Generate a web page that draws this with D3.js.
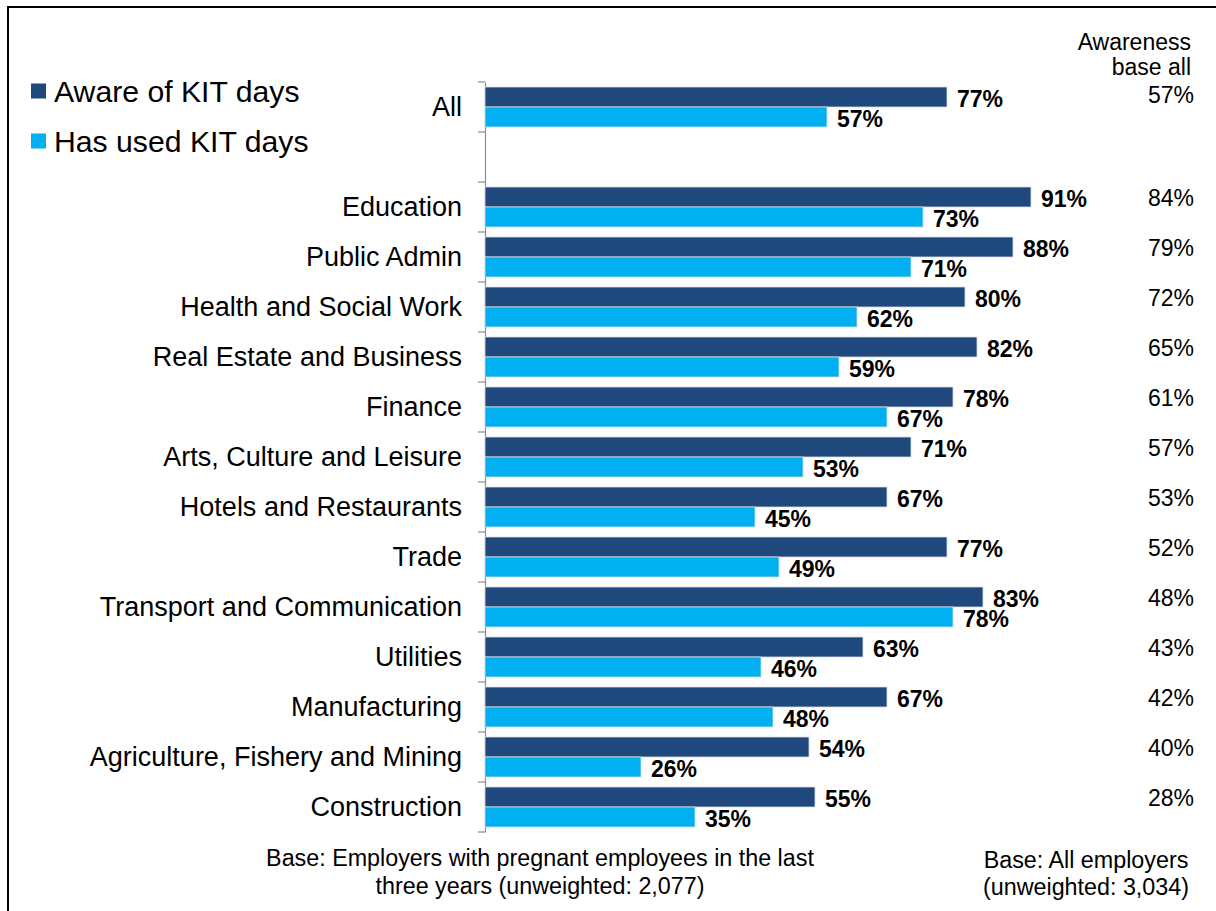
<!DOCTYPE html>
<html>
<head>
<meta charset="utf-8">
<script src="https://cdn.jsdelivr.net/npm/d3@7"></script>
<style>
  html, body { margin: 0; padding: 0; background: #fff; }
  svg { display: block; font-family: "Liberation Sans", Arial, sans-serif; }
</style>
</head>
<body>
<svg id="chart" width="1216" height="911"></svg>
<script>
// Sector rows; the blank entry is a spacer row under "All"
const categories = ["All", "", "Education", "Public Admin", "Health and Social Work",
  "Real Estate and Business", "Finance", "Arts, Culture and Leisure",
  "Hotels and Restaurants", "Trade", "Transport and Communication", "Utilities",
  "Manufacturing", "Agriculture, Fishery and Mining", "Construction"];
const awareValues = [77, null, 91, 88, 80, 82, 78, 71, 67, 77, 83, 63, 67, 54, 55];
const usedValues  = [57, null, 73, 71, 62, 59, 67, 53, 45, 49, 78, 46, 48, 26, 35];
const awarenessBaseAll = [57, null, 84, 79, 72, 65, 61, 57, 53, 52, 48, 43, 42, 40, 28];
const seriesNames = ["Aware of KIT days", "Has used KIT days"];
const seriesColors = ["#1F497D", "#00B0F0"];
const baseNoteLeft = ["Base: Employers with pregnant employees in the last", "three years (unweighted: 2,077)"];
const baseNoteRight = ["Base: All employers", "(unweighted: 3,034)"];
const awarenessHeader = ["Awareness", "base all"];

const svg = d3.select("#chart");
const rows = categories.map((c, i) => ({ key: i, name: c, aware: awareValues[i], used: usedValues[i], base: awarenessBaseAll[i] }));

// Outer frame
svg.append("rect")
  .attr("x", 8).attr("y", 7).attr("width", 1230).attr("height", 930)
  .attr("fill", "none").attr("stroke", "#000").attr("stroke-width", 2);

const x = d3.scaleLinear().domain([0, 100]).range([485, 1085]);
const y = d3.scaleBand().domain(rows.map(r => r.key)).range([82, 832]).padding(0);
const inner = d3.scaleBand().domain([0, 1]).range([5, y.bandwidth() - 5]);

// Category axis
const axis = svg.append("g")
  .attr("transform", `translate(${x(0)},0)`)
  .call(d3.axisLeft(y).tickValues([]).tickSize(0).tickSizeOuter(0));
axis.select(".domain").attr("stroke", "#8c8c8c").attr("stroke-width", 1.2);
// Boundary ticks between rows
axis.selectAll("line.sep")
  .data(d3.range(rows.length + 1))
  .join("line").attr("class", "sep")
  .attr("x1", -7).attr("x2", 0)
  .attr("y1", i => 82 + i * y.step()).attr("y2", i => 82 + i * y.step())
  .attr("stroke", "#8c8c8c").attr("stroke-width", 1.2);

// Category labels
svg.append("g").selectAll("text")
  .data(rows.filter(r => r.name))
  .join("text")
  .attr("x", 462)
  .attr("y", r => y(r.key) + y.bandwidth() / 2)
  .attr("text-anchor", "end")
  .attr("dominant-baseline", "central")
  .attr("font-size", 27)
  .attr("fill", "#000")
  .text(r => r.name);

// Bars
const fields = ["aware", "used"];
const rowG = svg.append("g").selectAll("g")
  .data(rows.filter(r => r.aware != null))
  .join("g")
  .attr("transform", r => `translate(0,${y(r.key)})`);

fields.forEach((f, si) => {
  rowG.append("rect")
    .attr("x", x(0))
    .attr("y", inner(si))
    .attr("width", r => x(r[f]) - x(0))
    .attr("height", inner.bandwidth())
    .attr("fill", seriesColors[si])
    .attr("stroke", "#d8dde3")
    .attr("stroke-width", 0.8);
  rowG.append("text")
    .attr("x", r => x(r[f]) + 10)
    .attr("y", inner(si) + inner.bandwidth() / 2 + 2)
    .attr("dominant-baseline", "central")
    .attr("font-size", 23)
    .attr("font-weight", "bold")
    .attr("fill", "#000")
    .text(r => r[f] + "%");
});

// Legend
const legend = svg.append("g");
seriesNames.forEach((name, i) => {
  const ly = 91 + i * 50;
  legend.append("rect")
    .attr("x", 31).attr("y", ly - 7.5)
    .attr("width", 15).attr("height", 15)
    .attr("fill", seriesColors[i]);
  legend.append("text")
    .attr("x", 54).attr("y", ly)
    .attr("dominant-baseline", "central")
    .attr("font-size", 30.2)
    .attr("fill", "#000")
    .text(name);
});

// Awareness base column
const side = svg.append("g").attr("font-size", 23).attr("fill", "#000");
side.selectAll("text.head")
  .data(awarenessHeader)
  .join("text").attr("class", "head")
  .attr("x", 1191).attr("y", (d, i) => 42 + i * 25)
  .attr("text-anchor", "end")
  .attr("dominant-baseline", "central")
  .text(d => d);
side.selectAll("text.val")
  .data(rows.filter(r => r.base != null))
  .join("text").attr("class", "val")
  .attr("x", 1194)
  .attr("y", r => r.key === 0 ? 95 : y(r.key) + y.bandwidth() / 2 - 9)
  .attr("text-anchor", "end")
  .attr("dominant-baseline", "central")
  .text(r => r.base + "%");

// Base notes
const notes = svg.append("g").attr("font-size", 23.3).attr("fill", "#000");
notes.selectAll("text.l")
  .data(baseNoteLeft)
  .join("text").attr("class", "l")
  .attr("x", 540).attr("y", (d, i) => 858 + i * 28)
  .attr("text-anchor", "middle")
  .attr("dominant-baseline", "central")
  .text(d => d);
notes.selectAll("text.r")
  .data(baseNoteRight)
  .join("text").attr("class", "r")
  .attr("x", 1086).attr("y", (d, i) => 860 + i * 27)
  .attr("text-anchor", "middle")
  .attr("dominant-baseline", "central")
  .text(d => d);
</script>
</body>
</html>
